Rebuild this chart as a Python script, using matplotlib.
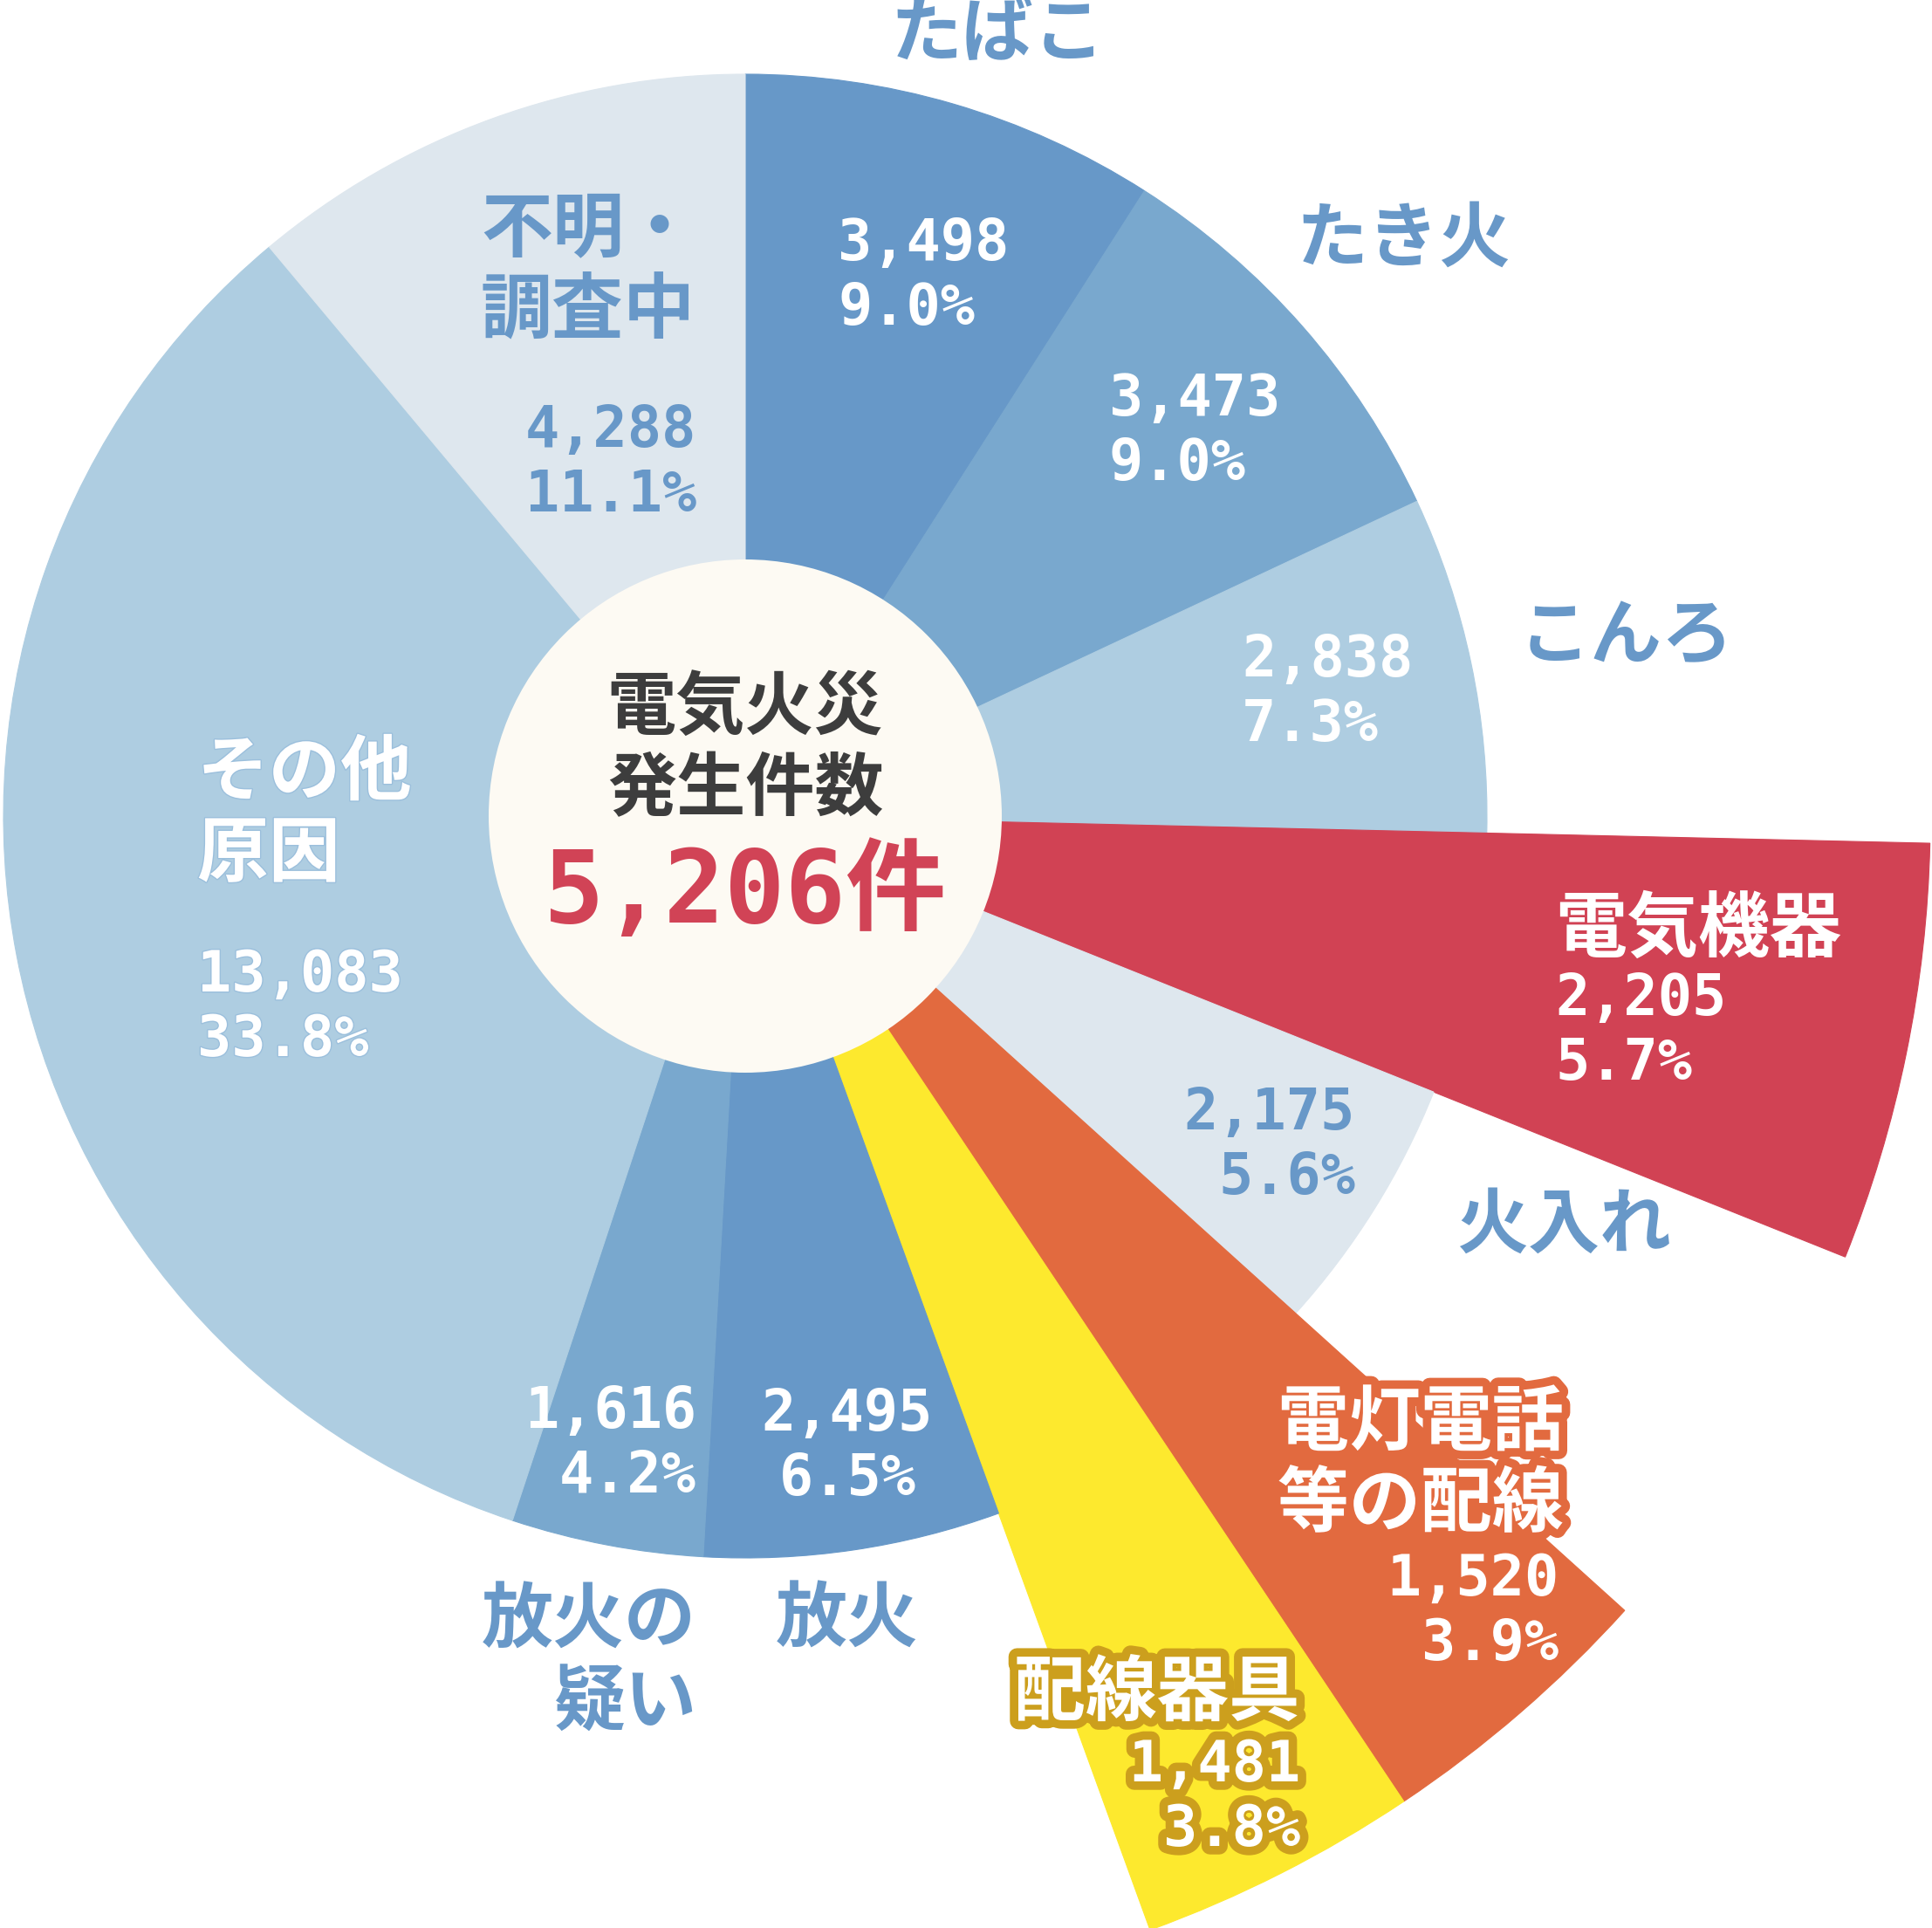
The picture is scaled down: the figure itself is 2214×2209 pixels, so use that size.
import matplotlib.pyplot as plt
from matplotlib.patches import Wedge, Circle
import matplotlib.patheffects as pe

W, H = 2214, 2209

# slices, clockwise from 12 o'clock
causes = ["たばこ", "たき火", "こんろ", "電気機器", "火入れ", "電灯電話\n等の配線",
          "配線器具", "放火", "放火の\n疑い", "その他\n原因", "不明・\n調査中"]
counts = [3498, 3473, 2838, 2205, 2175, 1520, 1481, 2495, 1616, 13083, 4288]
shares = ["9.0%", "9.0%", "7.3%", "5.7%", "5.6%", "3.9%", "3.8%", "6.5%", "4.2%", "33.8%", "11.1%"]
electric = [False, False, False, True, False, True, True, False, False, False, False]
colors = ["#6798c8", "#79a8ce", "#aecde1", "#d14254", "#dee7ee", "#e26a3f",
          "#fde92e", "#6798c8", "#79a8ce", "#aecde1", "#dee7ee"]
center_title = "電気火災\n発生件数"
electric_total = sum(c for c, e in zip(counts, electric) if e)

BLUE = "#6898c8"
JP = "Noto Sans CJK JP"
MONO = "DejaVu Sans Mono"

# label layout, pixel coords (x, y, ha, colour) for name and for number block
layout = [
    dict(name=(1144, 40, "center", BLUE), num=(960, 317, "left", "white")),
    dict(name=(1609, 275, "center", BLUE), num=(1271, 495, "left", "white")),
    dict(name=(1741, 731, "left", BLUE), num=(1423, 794, "left", "white")),
    dict(name=(1782, 1066, "left", "white"), num=(1782, 1182, "left", "white")),
    dict(name=(1669, 1405, "left", BLUE), num=(1553, 1313, "right", BLUE)),
    dict(name=(1792, 1678, "right", "white"), num=(1786, 1847, "right", "white"), stroke="#e26a3f"),
    dict(name=(1490, 1941, "right", "white"), num=(1490, 2060, "right", "white"), stroke="#cc9f1d"),
    dict(name=(971, 1857, "center", BLUE), num=(971, 1658, "center", "white")),
    dict(name=(798, 1905, "right", BLUE), num=(798, 1655, "right", "white")),
    dict(name=(226, 933, "left", "white"), num=(226, 1155, "left", "white"), stroke="#9bbfdc", thin=True),
    dict(name=(551, 310, "left", BLUE), num=(798, 531, "right", BLUE)),
]

cx, cy = 854, H - 935
r_base, r_big, r_hole = 850, 1358, 294

fig = plt.figure(figsize=(W / 100, H / 100), dpi=100)
ax = fig.add_axes([0, 0, 1, 1])
ax.set_xlim(0, W)
ax.set_ylim(0, H)
ax.set_aspect("equal")
ax.axis("off")

total = sum(counts)
cum = 0
for i, c in enumerate(counts):
    t2 = 90 - cum / total * 360
    cum += c
    t1 = 90 - cum / total * 360
    r = r_big if electric[i] else r_base
    ax.add_patch(Wedge((cx, cy), r, t1, t2, facecolor=colors[i],
                       edgecolor=colors[i], linewidth=0.8))

ax.add_patch(Circle((cx, cy), r_hole, facecolor="#fdfaf3", edgecolor="none"))

ax.text(cx, H - 858, center_title, ha="center", va="center", fontsize=57,
        fontweight="bold", family=JP, color="#3d3d3d", linespacing=1.2)
ax.text(cx, H - 1024, f"{electric_total:,}件", ha="center", va="center",
        fontsize=83, fontweight="bold", family=[MONO, JP], color="#d14356")

for i, lay in enumerate(layout):
    fx = []
    if "stroke" in lay:
        lw = 2 if lay.get("thin") else 14
        fx = [pe.withStroke(linewidth=lw, foreground=lay["stroke"])]
    x, y, ha, col = lay["name"]
    ax.text(x, H - y, causes[i], ha=ha, va="center", fontsize=59,
            fontweight="bold", family=JP, color=col, linespacing=1.15,
            multialignment=ha, path_effects=fx)
    x, y, ha, col = lay["num"]
    ax.text(x, H - y, f"{counts[i]:,}\n{shares[i]}", ha=ha, va="center",
            fontsize=47, fontweight="bold", family=MONO, color=col,
            linespacing=1.2, multialignment=ha, path_effects=fx)

fig.savefig("out.png", dpi=100, facecolor="white")
